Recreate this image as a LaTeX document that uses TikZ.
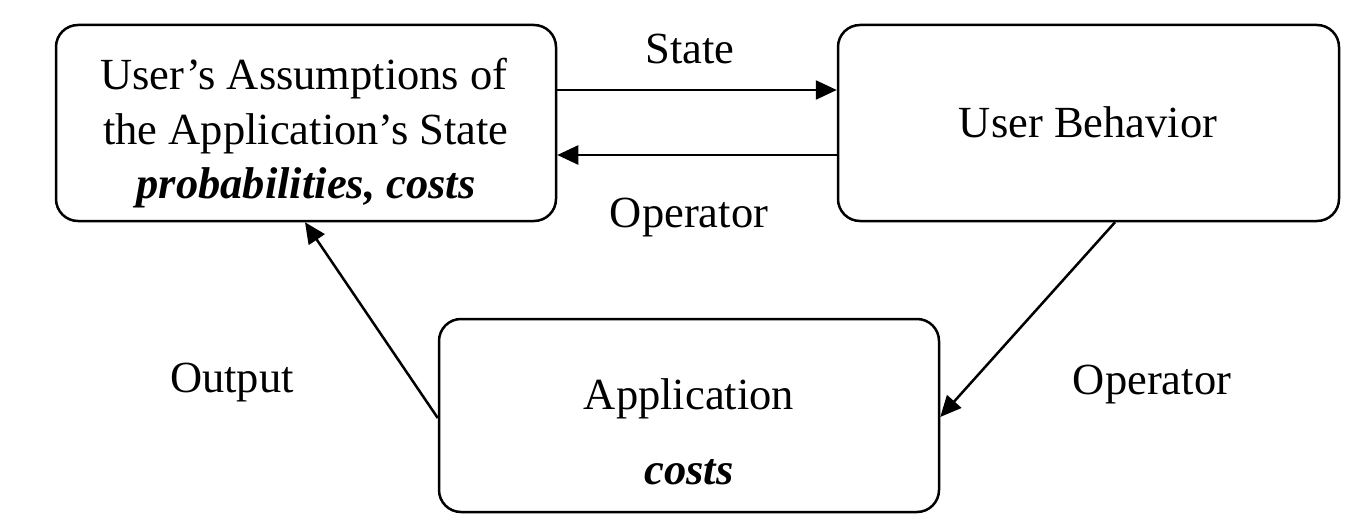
\documentclass[tikz,border=0pt]{standalone}
\usepackage{fontspec}
\setmainfont{Liberation Serif}
\usetikzlibrary{arrows.meta}
\begin{document}
\begin{tikzpicture}[x=1pt,y=-1pt,
  every node/.style={font=\fontsize{44.5}{53}\selectfont},
  box/.style={draw, line width=2.5pt, rounded corners=22pt, inner sep=0pt},
  txt/.style={anchor=base, inner sep=0pt},
  flow/.style={line width=2.5pt, -{Triangle[length=21pt,width=19pt]}}]
  \path[use as bounding box] (0,0) rectangle (1355,516);

  % the three blocks
  \node[box, minimum width=500pt, minimum height=196pt] (A) at (306,123) {};
  \node[box, minimum width=501pt, minimum height=196pt] (B) at (1088.5,123) {};
  \node[box, minimum width=500pt, minimum height=193pt] (C) at (689,415.5) {};

  % block texts
  \node[txt] (A1) at (304,90) {User’s Assumptions of};
  \node[txt] (A2) at (306,145) {the Application’s State};
  \node[txt] (A3) at (306,198) {\textbf{\textit{probabilities, costs}}};
  \node[txt] (B1) at (1088,138) {User Behavior};
  \node[txt] (C1) at (689,409) {Application};
  \node[txt] (C2) at (689,484) {\textbf{\textit{costs}}};

  % connectors
  \draw[flow] ([yshift=33pt]A.east) -- ([yshift=33pt]B.west);
  \draw[flow] ([yshift=-32pt]B.west) -- ([yshift=-32pt]A.east);
  \draw[flow] ([xshift=26.5pt]B.south) -- ([yshift=-1.5pt]C.east);
  \draw[flow] ([yshift=-2.5pt]C.west) -- ([xshift=-1pt]A.south);

  % connector labels
  \node[txt] (lstate) at (690,64) {State};
  \node[txt] (lop1) at (689,227) {Operator};
  \node[txt] (lout) at (232,392) {Output};
  \node[txt] (lop2) at (1152,394) {Operator};
\end{tikzpicture}
\end{document}
